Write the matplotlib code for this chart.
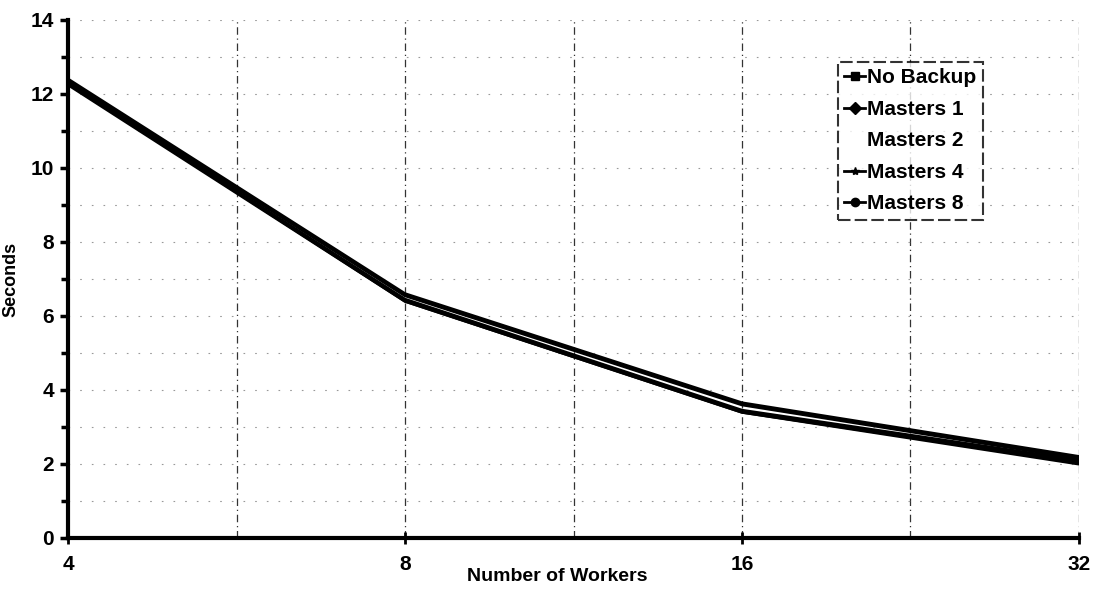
import matplotlib
matplotlib.use("Agg")
import matplotlib.pyplot as plt
from matplotlib.lines import Line2D
from matplotlib.ticker import MultipleLocator, FixedLocator

# datos
trabajadores = ["4", "8", "16", "32"]
no_backup = [12.4, 6.6, 3.65, 2.2]
masters_1 = [12.35, 6.55, 3.6, 2.15]
masters_2 = [12.3, 6.45, 3.45, 2.1]
masters_4 = [12.3, 6.4, 3.4, 2.05]
masters_8 = [12.25, 6.4, 3.4, 2.0]

series = [
    ("No Backup", no_backup, "s"),
    ("Masters 1", masters_1, "D"),
    ("Masters 2", masters_2, ""),
    ("Masters 4", masters_4, "*"),
    ("Masters 8", masters_8, "o"),
]

plt.rcParams["font.family"] = ["Liberation Sans", "DejaVu Sans"]
plt.rcParams["font.weight"] = "bold"

fig = plt.figure(figsize=(11.01, 5.91), dpi=100)
ax = fig.add_axes([0.0618, 0.0897, 0.9182, 0.8765])

x = list(range(len(trabajadores)))
for nombre, valores, marca in series:
    ax.plot(x, valores, color="black", lw=2.2, solid_capstyle="round", zorder=3)

ax.set_xlim(0, 3)
ax.set_ylim(0, 14)
ax.set_xticks(x)
ax.set_xticklabels(trabajadores, fontsize=15, fontweight="bold")
ax.xaxis.set_minor_locator(FixedLocator([0.5, 1.5, 2.5]))
ax.yaxis.set_major_locator(MultipleLocator(2))
ax.yaxis.set_minor_locator(MultipleLocator(1))
ax.tick_params(axis="y", which="major", labelsize=15, length=6, width=2.5, direction="out", pad=4)
ax.tick_params(axis="y", which="minor", length=5, width=2.5, direction="out")
ax.tick_params(axis="x", which="major", length=8, width=2, direction="inout", pad=8)
ax.tick_params(axis="x", which="minor", length=0)
for etiqueta in ax.get_yticklabels():
    etiqueta.set_fontweight("bold")

# rejilla
ax.grid(axis="x", which="both", color="#333333", ls=(0, (6, 3, 1, 3)), lw=0.9)
ax.grid(axis="y", which="both", color="#999999", ls=(0, (1.5, 9)), lw=0.8)
ax.set_axisbelow(True)

for lado in ("top", "right"):
    ax.spines[lado].set_visible(False)
ax.spines["left"].set_linewidth(3)
ax.spines["bottom"].set_linewidth(3)

ax.set_ylabel("Seconds", fontsize=13, fontweight="bold", labelpad=8)
fig.text(0.506, 0.024, "Number of Workers", fontsize=14, fontweight="bold",
         ha="center", va="center")

manejadores = [Line2D([0], [0], color="black" if m else "none", lw=2, marker=m or None,
                      markersize=6, markerfacecolor="black", markeredgecolor="black")
               for _, _, m in series]
ley = fig.legend(manejadores, [s[0] for s in series], loc="upper left",
                 bbox_to_anchor=(0.761, 0.895), frameon=True, fancybox=False,
                 edgecolor="black", fontsize=15, handlelength=1.0, handletextpad=0.1,
                 borderpad=0.3, labelspacing=0.6, borderaxespad=0)
ley.get_frame().set_linewidth(1.5)
ley.get_frame().set_linestyle((0, (6, 2)))
for t in ley.get_texts():
    t.set_fontweight("bold")

fig.savefig("out.png", dpi=100)
